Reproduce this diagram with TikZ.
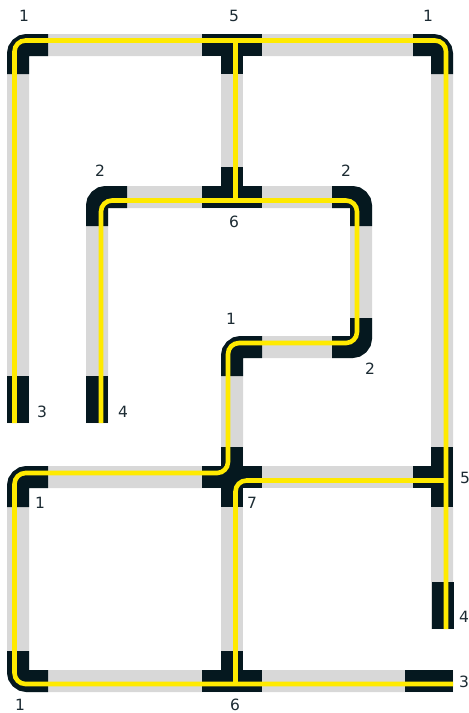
\documentclass[tikz,border=0pt]{standalone}
\usepackage{fontspec}
\setmainfont{DejaVu Sans}
\usepackage{xcolor}
\usepackage{tikz}
\definecolor{trackgray}{HTML}{D8D8D8}
\definecolor{jointdark}{HTML}{05181F}
\definecolor{railyellow}{HTML}{FFEA00}
\definecolor{numdark}{HTML}{1C2B33}

\begin{document}
\begin{tikzpicture}[
  x=1pt, y=-1pt,
  track/.style={draw=trackgray, line width=22pt, rounded corners=9pt},
  joint/.style={draw=jointdark, line width=22pt, rounded corners=9pt},
  rail/.style={draw=railyellow, line width=4.6pt, rounded corners=11pt},
  num/.style={font=\fontsize{15.5pt}{15.5pt}\selectfont, text=numdark, inner sep=0pt}
]
  \useasboundingbox (0,0) rectangle (469,713);
  \clip (0,0) rectangle (469,713);

  % grey tracks
  \draw[track] (18,423) -- (18,45) -- (442,45) -- (442,629);
  \draw[track] (232,45) -- (232,197);
  \draw[track] (97,423) -- (97,197) -- (361,197) -- (361,347) -- (232,347) -- (232,477) -- (18,477) -- (18,681) -- (453,681);
  \draw[track] (232,477) -- (442,477);
  \draw[track] (232,477) -- (232,681);

  % dark corners
  \draw[joint] (18,74) -- (18,45) -- (48,45);
  \draw[joint] (413,45) -- (442,45) -- (442,74);
  \draw[joint] (97,226) -- (97,197) -- (127,197);
  \draw[joint] (332,197) -- (361,197) -- (361,226);
  \draw[joint] (361,318) -- (361,347) -- (332,347);
  \draw[joint] (262,347) -- (232,347) -- (232,376);
  \draw[joint] (18,507) -- (18,477) -- (48,477);
  \draw[joint] (18,651) -- (18,681) -- (48,681);

  % dark tees and the cross
  \draw[joint] (202,45) -- (262,45) (232,45) -- (232,74);
  \draw[joint] (202,197) -- (262,197) (232,197) -- (232,167);
  \draw[joint] (202,681) -- (262,681) (232,681) -- (232,651);
  \draw[joint] (202,477) -- (262,477) (232,447) -- (232,507);
  \draw[joint] (413,477) -- (442,477) (442,447) -- (442,507);

  % dark ends
  \draw[joint] (18,376) -- (18,423);
  \draw[joint] (97,376) -- (97,423);
  \draw[joint] (443,582) -- (443,629);
  \draw[joint] (405,681) -- (453,681);

  % yellow rails
  \draw[rail] (14.5,423) -- (14.5,40.5) -- (446,40.5) -- (446,629);
  \draw[rail] (235.5,40.5) -- (235.5,200.5);
  \draw[rail] (101,423) -- (101,200.5) -- (357,200.5) -- (357,343) -- (228,343) -- (228,473) -- (14.5,473) -- (14.5,684) -- (453,684);
  \draw[rail] (446,480.5) -- (235.5,480.5) -- (235.5,684);

  \node[num] (topleft) at (24,16) {1};
  \node[num] (topmid) at (234,16) {5};
  \node[num] (topright) at (428,16) {1};
  \node[num] (innerleft) at (100,171) {2};
  \node[num] (innerright) at (346,171) {2};
  \node[num] (innermid) at (234,222) {6};
  \node[num] (stepup) at (231,319) {1};
  \node[num] (stepdown) at (370,369) {2};
  \node[num] (endleft) at (42,412) {3};
  \node[num] (endinner) at (123,412) {4};
  \node[num] (lowleft) at (40,503) {1};
  \node[num] (cross) at (252,503) {7};
  \node[num] (lowright) at (465,478) {5};
  \node[num] (endright) at (464,617) {4};
  \node[num] (endbottom) at (464,682) {3};
  \node[num] (botleft) at (20,705) {1};
  \node[num] (botmid) at (235,705) {6};
\end{tikzpicture}
\end{document}
